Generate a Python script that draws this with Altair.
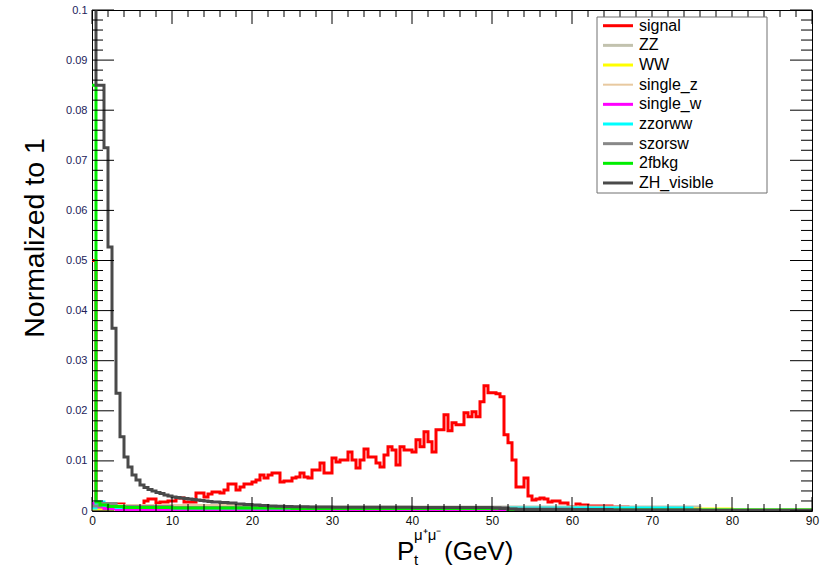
import altair as alt
import pandas as pd

X_MAX = 90
BIN = 0.5

series_names = ["signal", "ZZ", "WW", "single_z", "single_w", "zzorww", "szorsw", "2fbkg", "ZH_visible"]
series_colors = ["#ff0000", "#c2c2ae", "#ffff00", "#e8c9a0", "#ff00ff", "#00ffff", "#888888", "#00ee00", "#4a4a4a"]
series_widths = [3, 3, 3, 2, 3, 3, 3, 3, 3]

# signal: one value per 0.5 GeV bin starting at 0
signal_vals = [
    0.05, 0.001, 0.001, 0.001, 0.0014, 0.0014, 0.0014, 0.0014, 0.0008, 0.0008,
    0.001, 0.0008, 0.0008, 0.002, 0.0024, 0.0024, 0.0016, 0.0018, 0.0018, 0.002,
    0.002, 0.0026, 0.0026, 0.0018, 0.0018, 0.0018, 0.0036, 0.0036, 0.0028, 0.0034,
    0.0038, 0.0038, 0.0036, 0.0042, 0.0054, 0.0054, 0.0042, 0.0048, 0.0054, 0.0054,
    0.0058, 0.0062, 0.0072, 0.0066, 0.0072, 0.0076, 0.0076, 0.0058, 0.006, 0.006,
    0.0066, 0.0068, 0.0076, 0.0068, 0.0066, 0.0082, 0.0082, 0.0096, 0.0076, 0.0076,
    0.0106, 0.0098, 0.0102, 0.0102, 0.0118, 0.0102, 0.0086, 0.0102, 0.0124, 0.0108,
    0.0108, 0.0096, 0.0088, 0.0112, 0.0128, 0.0122, 0.0092, 0.0128, 0.0122, 0.0122,
    0.0118, 0.0142, 0.0128, 0.0158, 0.0138, 0.0118, 0.0162, 0.0162, 0.0192, 0.016,
    0.0176, 0.0172, 0.0172, 0.0196, 0.0188, 0.0198, 0.0188, 0.0218, 0.025, 0.0236,
    0.0236, 0.0234, 0.0228, 0.0152, 0.0136, 0.0102, 0.0048, 0.0048, 0.0066, 0.003,
    0.0022, 0.0024, 0.0026, 0.0024, 0.0018, 0.002, 0.002, 0.0016, 0.0016, 0.0008,
    0.0008, 0.0014, 0.0012, 0.0012, 0.001, 0.001, 0.001, 0.001, 0.001, 0.001,
    0.0008, 0.0008, 0.0008, 0.0008, 0.0,
]

# ZH_visible: per-bin head (0 - 15 GeV) then wider segments
zh_head_vals = [
    0.16, 0.085, 0.085, 0.0725, 0.0527, 0.0365, 0.0235, 0.0148, 0.0108, 0.0088,
    0.0072, 0.0062, 0.0052, 0.0047, 0.0043, 0.004, 0.0037, 0.0035, 0.0032, 0.003,
    0.0028, 0.0027, 0.0026, 0.0025, 0.0024, 0.0023, 0.0022, 0.0021, 0.002, 0.0019,
]
zh_tail_starts = [15, 16, 17, 18, 19, 20, 21, 22, 23, 24, 25, 27, 30, 40, 50, 51, 52, 53, 65, 76]
zh_tail_vals = [0.0018, 0.0017, 0.0016, 0.0014, 0.0013, 0.0012, 0.0011, 0.001, 0.00095, 0.0009,
                0.00085, 0.0008, 0.00075, 0.0007, 0.0006, 0.0005, 0.0004, 0.0003, 0.0002, 0.0001]

zz_starts = [0, 2, 6, 76]
zz_vals = [0.0004, 0.0006, 0.0008, 0.0]
ww_starts = [0, 3, 40, 80]
ww_vals = [0.0004, 0.0005, 0.0004, 0.0002]
singlez_starts = [0, 1, 5, 20, 25, 45, 60]
singlez_vals = [0.0008, 0.0012, 0.0012, 0.001, 0.0008, 0.0006, 0.0003]
singlew_starts = [0, 0.5, 1.5, 3, 6]
singlew_vals = [0.0015, 0.0008, 0.0005, 0.0003, 0.0001]
zzorww_starts = [0, 0.5, 1.5, 3, 10, 52, 75]
zzorww_vals = [0.0006, 0.0018, 0.0011, 0.0007, 0.0006, 0.0006, 0.0001]
szorsw_starts = [0, 1, 3, 10, 52, 60]
szorsw_vals = [0.001, 0.0015, 0.0009, 0.0007, 0.0004, 0.0002]
fbkg_starts = [0, 0.5, 1.0, 2, 4, 10, 25, 52]
fbkg_vals = [0.085, 0.0018, 0.0012, 0.0009, 0.0007, 0.0006, 0.0005, 0.0002]

x_label_vals = [0, 10, 20, 30, 40, 50, 60, 70, 80, 90]
y_label_vals = [0, 0.01, 0.02, 0.03, 0.04, 0.05, 0.06, 0.07, 0.08, 0.09, 0.1]
x_minor_step = 2
y_minor_step = 0.002

# ---------------------------------------------------------------
def step_rows(name, starts, vals):
    rows = [{"series": name, "x": s, "y": v} for s, v in zip(starts, vals)]
    rows.append({"series": name, "x": X_MAX, "y": vals[-1]})
    return rows

rows = []
rows += step_rows("signal", [i * BIN for i in range(len(signal_vals))], signal_vals)
rows += step_rows("ZZ", zz_starts, zz_vals)
rows += step_rows("WW", ww_starts, ww_vals)
rows += step_rows("single_z", singlez_starts, singlez_vals)
rows += step_rows("single_w", singlew_starts, singlew_vals)
rows += step_rows("zzorww", zzorww_starts, zzorww_vals)
rows += step_rows("szorsw", szorsw_starts, szorsw_vals)
rows += step_rows("2fbkg", fbkg_starts, fbkg_vals)
rows += step_rows("ZH_visible",
                  [i * BIN for i in range(len(zh_head_vals))] + zh_tail_starts,
                  zh_head_vals + zh_tail_vals)
df = pd.DataFrame(rows)

W, H = 720, 501
FONT = "Liberation Sans"

xs = alt.Scale(domain=[0, X_MAX], nice=False, zero=False)
ys = alt.Scale(domain=[0, 0.1], nice=False)
cs = alt.Scale(domain=series_names, range=series_colors)

x_axis = alt.Axis(values=x_label_vals, ticks=False, domain=False, grid=False, title=None,
                  labelFont=FONT, labelFontSize=12, labelColor="#111111", labelPadding=4,
                  labelFlush=False, labelOverlap=False)
y_axis = alt.Axis(values=y_label_vals, format="~g", ticks=False, domain=False, grid=False, title=None,
                  labelFont=FONT, labelFontSize=11, labelColor="#22225a", labelPadding=5,
                  labelFlush=False, labelOverlap=False)

layers = []
for name, w in zip(series_names, series_widths):
    layers.append(
        alt.Chart(df).transform_filter(alt.datum.series == name)
        .mark_line(interpolate="step-after", strokeWidth=w, clip=True)
        .encode(
            x=alt.X("x:Q", scale=xs, axis=x_axis),
            y=alt.Y("y:Q", scale=ys, axis=y_axis),
            color=alt.Color("series:N", scale=cs, legend=None),
        )
    )

# inward ticks (ROOT style)
x_major = pd.DataFrame({"v": x_label_vals})
x_minor = pd.DataFrame({"v": [v for v in range(0, X_MAX + 1, x_minor_step) if v % 10 != 0]})
y_major = pd.DataFrame({"v": y_label_vals})
y_minor = pd.DataFrame({"v": [round(k * y_minor_step, 4) for k in range(51) if k % 5 != 0]})

def xticks(data, y0, y1):
    return alt.Chart(data).mark_rule(color="black", strokeWidth=1).encode(
        x=alt.X("v:Q", scale=xs, axis=x_axis), y=alt.value(y0), y2=alt.value(y1))

def yticks(data, x0, x1):
    return alt.Chart(data).mark_rule(color="black", strokeWidth=1).encode(
        y=alt.Y("v:Q", scale=ys, axis=y_axis), x=alt.value(x0), x2=alt.value(x1))

tick_layers = [
    xticks(x_major, H, H - 14), xticks(x_minor, H, H - 7),
    xticks(x_major, 0, 14), xticks(x_minor, 0, 7),
    yticks(y_major, 0, 22), yticks(y_minor, 0, 11),
    yticks(y_major, W, W - 22), yticks(y_minor, W, W - 11),
]

# legend box
one = pd.DataFrame({"k": [0]})
leg_df = pd.DataFrame({"series": series_names})
legend_layers = [
    alt.Chart(one).mark_rect(fill="white", stroke="#707070", strokeWidth=1).encode(
        x=alt.value(505), x2=alt.value(675), y=alt.value(7), y2=alt.value(183))
]
for k, (name, w) in enumerate(zip(series_names, series_widths)):
    ly = 15.7 + 19.66 * k
    legend_layers.append(
        alt.Chart(leg_df).transform_filter(alt.datum.series == name)
        .mark_rule(strokeWidth=w)
        .encode(x=alt.value(511), x2=alt.value(541), y=alt.value(ly),
                color=alt.Color("series:N", scale=cs, legend=None))
    )
    legend_layers.append(
        alt.Chart(leg_df).transform_filter(alt.datum.series == name)
        .mark_text(align="left", baseline="middle", font=FONT, fontSize=16, color="black")
        .encode(x=alt.value(547), y=alt.value(ly), text="series:N")
    )

# titles
title_layers = [
    alt.Chart(one).mark_text(text="Normalized to 1", angle=270, font=FONT, fontSize=28.5,
                             align="center", baseline="middle", color="black")
    .encode(x=alt.value(-57), y=alt.value(228)),
    alt.Chart(one).mark_text(text="P", font=FONT, fontSize=26, align="left",
                             baseline="alphabetic", color="black")
    .encode(x=alt.value(305), y=alt.value(550)),
    alt.Chart(one).mark_text(text="t", font=FONT, fontSize=15, align="left",
                             baseline="alphabetic", color="black")
    .encode(x=alt.value(322), y=alt.value(555)),
    alt.Chart(one).mark_text(text="μ⁺μ⁻", font=FONT, fontSize=15, align="left",
                             baseline="alphabetic", color="black")
    .encode(x=alt.value(322), y=alt.value(530)),
    alt.Chart(one).mark_text(text="(GeV)", font=FONT, fontSize=26, align="left",
                             baseline="alphabetic", color="black")
    .encode(x=alt.value(352), y=alt.value(550)),
]

chart = alt.layer(*layers, *tick_layers, *legend_layers, *title_layers).properties(
    width=W, height=H,
    autosize=alt.AutoSizeParams(type="none"),
    padding={"left": 92, "top": 10, "right": 21, "bottom": 57},
    background="white",
).configure_view(stroke="black", strokeWidth=1)

chart.save("out.html", embed_options={"renderer": "svg", "actions": False})
